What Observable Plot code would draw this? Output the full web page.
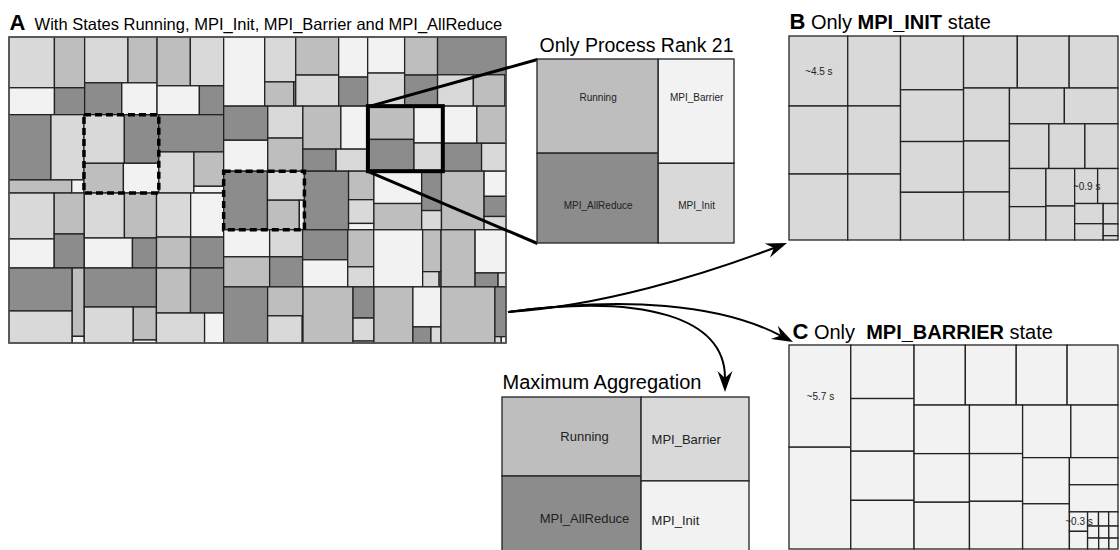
<!DOCTYPE html>
<html><head><meta charset="utf-8">
<script src="https://cdn.jsdelivr.net/npm/d3@7"></script>
<script src="https://cdn.jsdelivr.net/npm/@observablehq/plot@0.6"></script>
<style>html,body{margin:0;padding:0;background:#fff;overflow:hidden}</style>
</head><body><div id="chart"></div>
<script>
// ---------------- DATA ----------------
const stateNames = {R: "Running", I: "MPI_Init", B: "MPI_Barrier", A: "MPI_AllReduce"};
const stateFill = {Running: "#bebebe", MPI_Init: "#d9d9d9", MPI_Barrier: "#f2f2f2", MPI_AllReduce: "#8c8c8c"};

const hostNames = ["host-1", "host-2"];
const procRank = [0,1,2,3,4,5,6,7,8,9,10,11, 12,13,14,15,16,17,21,19,20,18,22,23,24,25,26,27,28,29,30,31];
const procHost = [0,0,0,0,0,0,0,0,0,0,0,0, 1,1,1,1,1,1,1,1,1,1,1,1,1,1,1,1,1,1,1,1];
const procStateOrder = ["IRBA","IRAB","RIBA","AIRB","IARB","AIRB","IBRA","IRBA","IBRA","AIRB","AIRB","RAIB",
  "BIRA","RIBA","BIRA","AIRB","ABIR","RBAI","RABI","BRAI","AIRB","ARIB","BRAI","RBAI",
  "BRIA","ABRI","BRIA","RBAI","ARIB","RAIB","RBAI","RAIB"];
const procStateTimes = [
  [23.0,15.3,12.2,8.1],[19.8,13.3,11.8,11.2],[16.2,16.2,12.2,7.0],
  [27.3,21.5,8.2,1.6],[19.6,16.7,11.7,10.5],[24.1,14.4,10.2,2.0],
  [20.7,13.1,12.3,10.2],[18.0,14.4,14.4,7.2],[15.0,14.5,10.5,10.2],
  [27.1,20.2,8.2,0.8],[28.1,17.6,7.6,0.7],[15.3,14.9,14.4,5.7],
  [28.3,13.9,7.0,0.5],[16.3,13.3,11.6,8.4],[13.3,12.2,12.5,10.2],[25.8,11.2,9.9,0.3],
  [15.0,13.6,11.2,11.6],[16.3,11.6,7.3,7.0],[15.3,14.6,10.6,8.1],[12.6,10.8,10.8,6.8],
  [25.6,10.7,9.4,1.5],[25.8,7.2,6.0,1.6],[15.4,12.5,7.8,3.8],[24.9,5.5,4.4,2.9],
  [12.4,13.8,8.9,9.9],[13.5,12.2,9.6,5.2],[27.9,7.7,2.5,0.3],[19.4,13.3,3.2,1.1],
  [24.6,10.2,9.4,0.2],[28.0,6.5,4.8,0.4],[21.8,11.2,2.9,1.6],[30.2,5.5,0.4,0.3]
];
const dashedRanks = [4, 20];
const focusRank = 21;

const initTimes = [4.5,4.37,4.24,4.04,3.93,3.81,3.71,3.57,3.5,3.29,3.06,2.95,2.78,2.66,2.56,2.41,
  2.15,2.10,1.93,1.76,1.62,1.52,1.33,1.18,1.07,0.88,0.78,0.63,0.51,0.33,0.19,0.07];
const initLabeled = [0, 25];
const barrierTimes = [5.7,5.68,3.06,3.01,2.81,2.78,2.78,2.76,2.76,2.76,2.43,2.43,2.34,2.33,2.29,2.29,2.29,
  2.24,1.95,1.91,1.19,1.19,0.32,0.29,0.14,0.13,0.12,0.12,0.11,0.11,0.10,0.10,0.09];
const barrierLabeled = [0, 22];

const maxStates = ["Running","MPI_AllReduce","MPI_Barrier","MPI_Init"];
const maxValues = [27.3, 29.0, 22.5, 21.2];
const maxFill = {Running: "#bebebe", MPI_AllReduce: "#8c8c8c", MPI_Barrier: "#d9d9d9", MPI_Init: "#f2f2f2"};

// ---------------- LAYOUT ----------------
const boxA = {x0: 9, y0: 37, x1: 506, y1: 343};
const boxRank = {x0: 537, y0: 59, x1: 734, y1: 243};
const boxMax = {x0: 502, y0: 397, x1: 749, y1: 560};
const boxB = {x0: 789, y0: 36, x1: 1118, y1: 240};
const boxC = {x0: 789, y0: 345, x1: 1118, y1: 549};
const FONT = '"Liberation Sans", Arial, Helvetica, sans-serif';

const sq = d3.treemapSquarify.ratio(1);
function rowsTile(parent, x0, y0, x1, y1) {
  const kids = parent.children; let total = parent.value; let i = 0;
  while (i < kids.length) {
    const w = x1 - x0, H = y1 - y0;
    const worst = (j) => { let s = 0; for (let k = i; k < j; k++) s += kids[k].value;
      const h = H * s / total; let r = 0;
      for (let k = i; k < j; k++) { const cw = w * kids[k].value / s; r = Math.max(r, cw / h, h / cw); }
      return [r, s]; };
    let j = i + 1; let [best, s] = worst(j);
    while (j < kids.length) { const [r, s2] = worst(j + 1); if (r > best) break; best = r; s = s2; j++; }
    const yEnd = j === kids.length ? y1 : y0 + H * s / total;
    d3.treemapDice({children: kids.slice(i, j), value: s}, x0, y0, x1, yEnd);
    total -= s; y0 = yEnd; i = j;
  }
}
function layout(data, box, tile) {
  const root = d3.hierarchy(data).sum(d => d.value || 0);
  d3.treemap().tile(tile).size([box.x1 - box.x0, box.y1 - box.y0])(root);
  root.each(n => { n.x0 += box.x0; n.x1 += box.x0; n.y0 += box.y0; n.y1 += box.y0; });
  return root;
}
const R = n => ({x1: n.x0, x2: n.x1, y1: n.y0, y2: n.y1});

// Panel A
const procData = procRank.map((r, i) => ({
  name: `rank ${r}`, rank: r, host: procHost[i],
  children: [...procStateOrder[i]].map((c, k) => ({state: stateNames[c], value: procStateTimes[i][k]}))
}));
const rootA = layout({name: "all", children: hostNames.map((h, hi) => ({name: h, children: procData.filter(p => p.host === hi)}))},
  boxA, (node, x0, y0, x1, y1) => node.depth === 0 ? d3.treemapDice(node, x0, y0, x1, y1)
    : node.depth === 1 ? rowsTile(node, x0, y0, x1, y1) : sq(node, x0, y0, x1, y1));
const rectsA = rootA.leaves().map(n => ({...R(n), fill: stateFill[n.data.state]}));
const procNodes = rootA.descendants().filter(n => n.depth === 2);
const dashedRects = procNodes.filter(n => dashedRanks.includes(n.data.rank)).map(R);
const focusNode = procNodes.find(n => n.data.rank === focusRank);

// Rank zoom panel
const rootRank = layout({children: procData.find(p => p.rank === focusRank).children.map(d => ({...d}))}, boxRank, sq);
const rectsRank = rootRank.leaves().map(n => ({...R(n), fill: stateFill[n.data.state], label: n.data.state,
  top: Math.abs(n.y0 - boxRank.y0) < 0.5}));

// Max aggregation
const rootMax = layout({children: maxStates.map((s, i) => ({state: s, value: maxValues[i]}))}, boxMax, sq);
const rectsMax = rootMax.leaves().map(n => ({...R(n), fill: maxFill[n.data.state], label: n.data.state, left: Math.abs(n.x0 - boxMax.x0) < 0.5}));

// B and C
const rootB = layout({children: initTimes.map((v, i) => ({value: v, label: initLabeled.includes(i) ? `~${v.toFixed(1)} s` : null}))}, boxB, sq);
const rectsB = rootB.leaves().map(n => ({...R(n), fill: stateFill.MPI_Init, label: n.data.label}));
const rootC = layout({children: barrierTimes.map((v, i) => ({value: v, label: barrierLabeled.includes(i) ? `~${v.toFixed(1)} s` : null}))}, boxC, sq);
const rectsC = rootC.leaves().map(n => ({...R(n), fill: stateFill.MPI_Barrier, label: n.data.label}));

// Titles (runs of text measured with canvas)
const ctx = document.createElement("canvas").getContext("2d");
function runs(x, y, parts) {
  let cx = x;
  return parts.map(([text, size, weight]) => {
    ctx.font = `${weight} ${size}px ${FONT}`;
    const o = {x: cx, y, text, size, weight};
    cx += ctx.measureText(text).width; return o;
  });
}
const titles = [
  ...runs(9, 29, [["A", 22, "bold"], ["  With States Running, MPI_Init, MPI_Barrier and MPI_AllReduce", 16.5, "normal"]]),
  ...runs(539, 51, [[`Only Process Rank ${focusRank}`, 19.5, "normal"]]),
  ...runs(789, 28, [["B", 22, "bold"], [" Only ", 20, "normal"], ["MPI_INIT", 20, "bold"], [" state", 20, "normal"]]),
  ...runs(792, 338, [["C", 22, "bold"], [" Only  ", 20, "normal"], ["MPI_BARRIER", 20, "bold"], [" state", 20, "normal"]]),
  ...runs(502, 388, [["Maximum Aggregation", 20, "normal"]])
];

// Arrows (annotation curves anchored on the panel boxes)
const arrowStart = [boxA.x1 + 2, 312];
const arrows = [
  {from: arrowStart, c1: [600, 306], c2: [700, 276], to: [boxB.x0 - 2, boxB.y1 + 3]},
  {from: arrowStart, c1: [625, 296], c2: [720, 304], to: [boxC.x0 + 4, boxC.y0 - 3]},
  {from: arrowStart, c1: [645, 293], c2: [725, 318], to: [725, boxMax.y0 - 5]}
];
function arrowMark(index, scales) {
  const g = d3.create("svg:g");
  const P = p => [scales.x(p[0]), scales.y(p[1])];
  for (const a of arrows) {
    const [s, c1, c2, e] = [a.from, a.c1, a.c2, a.to].map(P);
    const dx = e[0] - c2[0], dy = e[1] - c2[1], L = Math.hypot(dx, dy), ux = dx / L, uy = dy / L;
    const len = 21, half = 7.5, notch = 14;
    const base = [e[0] - ux * notch, e[1] - uy * notch];
    g.append("path").attr("d", `M${s}C${c1} ${c2} ${base}`).attr("fill", "none").attr("stroke", "black").attr("stroke-width", 2);
    const b1 = [e[0] - ux * len - uy * half, e[1] - uy * len + ux * half];
    const b2 = [e[0] - ux * len + uy * half, e[1] - uy * len - ux * half];
    g.append("path").attr("d", `M${e}L${b1}L${base}L${b2}Z`).attr("fill", "black");
  }
  return g.node();
}

const rectOpts = {x1: "x1", x2: "x2", y1: "y1", y2: "y2", fill: "fill", stroke: "#222", strokeWidth: 1.3};
const cx = d => (d.x1 + d.x2) / 2, cy = d => (d.y1 + d.y2) / 2;

const chart = Plot.plot({
  width: 1120, height: 550, margin: 0,
  x: {domain: [0, 1120], range: [0, 1120], axis: null},
  y: {domain: [0, 550], range: [0, 550], axis: null},
  color: {type: "identity"},
  style: {fontFamily: FONT, background: "white"},
  marks: [
    Plot.rect(rectsA, rectOpts),
    Plot.rect([boxA], {x1: "x0", x2: "x1", y1: "y0", y2: "y1", fill: "none", stroke: "#555", strokeWidth: 1.5}),
    Plot.rect(dashedRects, {x1: "x1", x2: "x2", y1: "y1", y2: "y2", fill: "none", stroke: "black", strokeWidth: 3.5, strokeDasharray: "7,4"}),
    Plot.rect([R(focusNode)], {x1: "x1", x2: "x2", y1: "y1", y2: "y2", fill: "none", stroke: "black", strokeWidth: 4}),
    Plot.link([{x1: focusNode.x0, y1: focusNode.y0, x2: boxRank.x0, y2: boxRank.y0},
               {x1: focusNode.x0, y1: focusNode.y1, x2: boxRank.x0, y2: boxRank.y1}],
      {x1: "x1", y1: "y1", x2: "x2", y2: "y2", stroke: "black", strokeWidth: 3}),
    Plot.rect(rectsRank, rectOpts),
    Plot.text(rectsRank, {x: cx, y: d => d.top ? d.y1 + 38 : d.y2 - 38, text: "label", fontSize: 10, fill: "#222"}),
    Plot.rect(rectsMax, rectOpts),
    Plot.text(rectsMax.filter(d => d.left), {x: d => d.x1 + (d.x2 - d.x1) * 0.59, y: cy, text: "label", fontSize: 13, fill: "#222"}),
    Plot.text(rectsMax.filter(d => !d.left), {x: d => d.x1 + 10, y: cy, text: "label", fontSize: 13, textAnchor: "start", fill: "#222"}),
    Plot.rect(rectsB, rectOpts),
    Plot.text(rectsB.filter(d => d.label), {x: cx, y: cy, text: "label", fontSize: 10, fill: "#222"}),
    Plot.rect(rectsC, rectOpts),
    Plot.text(rectsC.filter(d => d.label), {x: cx, y: cy, text: "label", fontSize: 10, fill: "#222"}),
    Plot.text(titles.filter(d => d.weight === "bold"), {x: "x", y: "y", text: "text", fontSize: "size", fontWeight: "bold", textAnchor: "start", lineAnchor: "bottom", fill: "black"}),
    Plot.text(titles.filter(d => d.weight !== "bold"), {x: "x", y: "y", text: "text", fontSize: "size", textAnchor: "start", lineAnchor: "bottom", fill: "black"}),
    arrowMark
  ]
});
document.getElementById("chart").appendChild(chart);
</script></body></html>
